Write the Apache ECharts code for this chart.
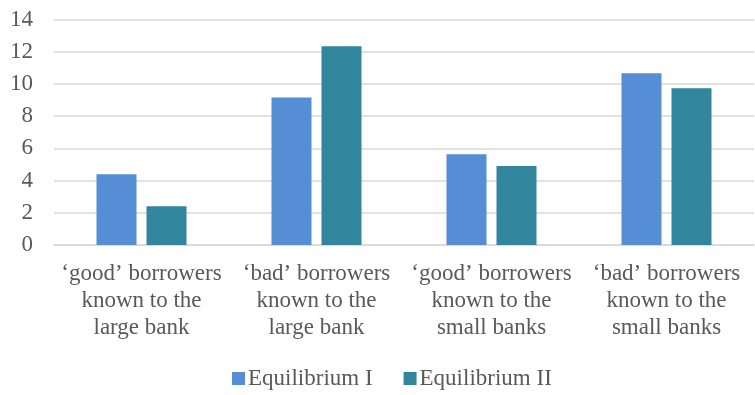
<!DOCTYPE html>
<html>
<head>
<meta charset="utf-8">
<script src="https://cdn.jsdelivr.net/npm/echarts@6/dist/echarts.min.js"></script>
<style>
  html, body { margin: 0; padding: 0; background: #fff; }
  #chart { width: 755px; height: 395px; }
</style>
</head>
<body>
<div id="chart"></div>
<script>
  const categories = [
    '\u2018good\u2019 borrowers\nknown to the\nlarge bank',
    '\u2018bad\u2019 borrowers\nknown to the\nlarge bank',
    '\u2018good\u2019 borrowers\nknown to the\nsmall banks',
    '\u2018bad\u2019 borrowers\nknown to the\nsmall banks'
  ]
  const equilibrium1 = [4.39, 9.15, 5.63, 10.66]
  const equilibrium2 = [2.40, 12.34, 4.90, 9.73]
  const seriesNames = ['Equilibrium I', 'Equilibrium II']

  const chart = echarts.init(document.getElementById('chart'))
  const font = 'Liberation Serif'
  chart.setOption({
    animation: false,
    color: ['#558ED5', '#31859C'],
    grid: { left: 54, right: 1, top: 19.5, bottom: 150 },
    legend: {
      top: 367,
      left: 232,
      padding: 0,
      itemWidth: 13,
      itemHeight: 13,
      itemGap: 31,
      icon: 'rect',
      textStyle: { fontFamily: font, fontSize: 23, color: '#595959', padding: [0, 0, 0, -2] },
      data: seriesNames
    },
    xAxis: {
      type: 'category',
      data: categories,
      axisLine: { lineStyle: { color: '#d9d9d9', width: 1.5 } },
      axisTick: { show: false },
      axisLabel: { fontFamily: font, fontSize: 23, color: '#595959', lineHeight: 27, margin: 15, interval: 0 }
    },
    yAxis: {
      type: 'value',
      min: 0,
      max: 14,
      interval: 2,
      axisLine: { show: false },
      axisTick: { show: false },
      splitLine: { lineStyle: { color: '#d9d9d9', width: 1.5 } },
      axisLabel: { fontFamily: font, fontSize: 23, color: '#595959', margin: 21 }
    },
    series: [
      { name: seriesNames[0], type: 'bar', data: equilibrium1, barWidth: 40, barGap: '25%' },
      { name: seriesNames[1], type: 'bar', data: equilibrium2, barWidth: 40, barGap: '25%' }
    ]
  })
</script>
</body>
</html>
